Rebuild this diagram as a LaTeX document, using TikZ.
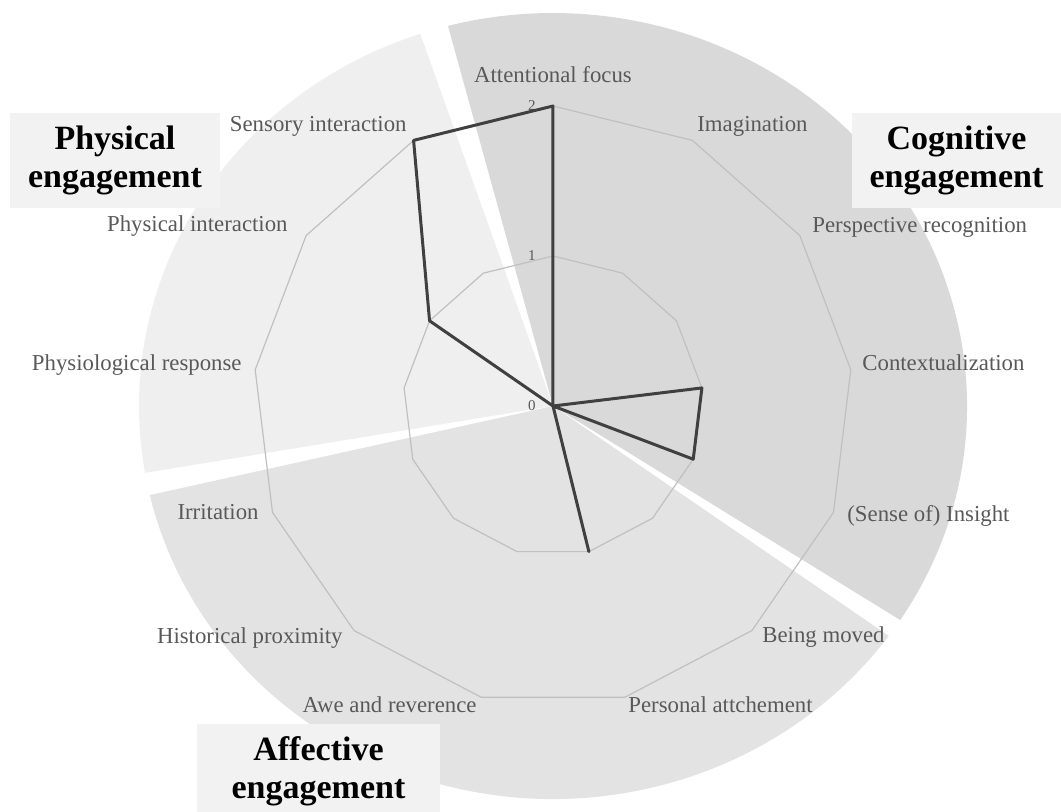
\documentclass[tikz,border=0pt]{standalone}
\usepackage{fontspec}
\setmainfont{Liberation Serif}
\usepackage{tikz}

\definecolor{cogfill}{HTML}{D9D9D9}
\definecolor{physfill}{HTML}{EFEFEF}
\definecolor{afffill}{HTML}{E3E3E3}
\definecolor{boxfill}{HTML}{F2F2F2}
\definecolor{gridcol}{HTML}{C0C0C0}
\definecolor{datacol}{HTML}{404040}
\definecolor{labcol}{HTML}{595959}

\begin{document}
\begin{tikzpicture}[x=0.5pt,y=0.5pt,
    gridline/.style={draw=gridcol,line width=0.6pt},
    dataline/.style={draw=datacol,line width=1.5pt,line join=round},
    axislabel/.style={text=labcol,inner sep=0pt,font=\fontsize{11.4}{13}\selectfont},
    ticklabel/.style={text=labcol,inner sep=0pt,font=\fontsize{7.5}{9}\selectfont},
    titlebox/.style={fill=boxfill,align=center,inner sep=0pt,font=\fontsize{17}{19}\selectfont\bfseries}]
            \useasboundingbox (-553,-405) rectangle (508,406);
            \clip (-553,-405) rectangle (508,406);

            %sectors
            \fill[cogfill] (0,0) -- (-33:207pt and 196.5pt)
                arc[start angle=-33,end angle=104.7,x radius=207pt,y radius=196.5pt] -- cycle;
            \fill[physfill] (0,0) -- (108.7:207pt and 196.5pt)
                arc[start angle=108.7,end angle=189.8,x radius=207pt,y radius=196.5pt] -- cycle;
            \fill[afffill] (0,0) -- (193.1:207pt and 196.5pt)
                arc[start angle=193.1,end angle=324.2,x radius=207pt,y radius=196.5pt] -- cycle;

            %grid
            \foreach \r in {150,300}
                \draw[gridline] (90:\r) \foreach \i in {1,...,12} { -- ({90-\i*360/13}:\r) } -- cycle;

            %ticks
            \foreach \t in {0,1,2}
                \node[ticklabel] (tick\t) at (-21,\t*150) {\t};

            %values
            \draw[dataline] (90:300) \foreach \v [count=\i] in {0,0,1,1,0,1,0,0,0,0,1,2}
                { -- ({90-\i*360/13}:{\v*150}) } -- cycle;

            %labels
            \node[axislabel,anchor=mid] (lab0) at (0,328) {Attentional focus};
            \foreach \txt/\x/\y/\anc [count=\i] in {
                    Imagination/144/279/mid west,
                    Perspective recognition/259/178/mid west,
                    Contextualization/309/40/mid west,
                    {(Sense of) Insight}/294/-111/mid west,
                    Being moved/209/-232/mid west,
                    Personal attchement/75/-302/mid west,
                    Awe and reverence/-76/-302/mid east,
                    Historical proximity/-210/-233/mid east,
                    Irritation/-294/-109/mid east,
                    Physiological response/-311/40/mid east,
                    Physical interaction/-265/179/mid east,
                    Sensory interaction/-146/279/mid east}
                \node[axislabel,anchor=\anc] (lab\i) at (\x,\y) {\txt};

            %groups
            \node[titlebox,minimum width=105pt,minimum height=47.5pt] (phys) at (-438,245.5) {Physical\\engagement};
            \node[titlebox,minimum width=104.5pt,minimum height=47.5pt] (cog) at (403.5,245.5) {Cognitive\\engagement};
            \node[titlebox,minimum width=121.5pt,minimum height=47pt] (aff) at (-234.5,-365) {Affective\\engagement};
\end{tikzpicture}
\end{document}
